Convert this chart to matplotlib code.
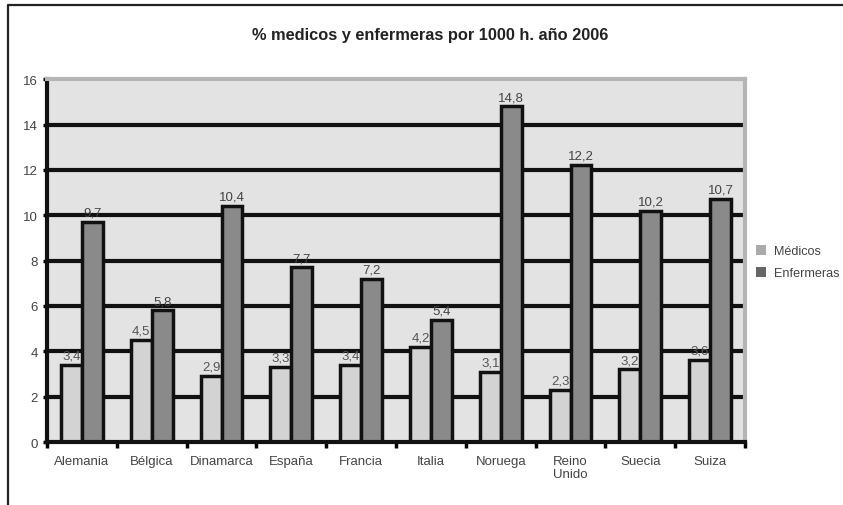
import numpy as np
import matplotlib.pyplot as plt
from matplotlib.lines import Line2D

plt.rcParams['font.family'] = ['Liberation Sans', 'DejaVu Sans']

# Datos
paises = ["Alemania", "Bélgica", "Dinamarca", "España", "Francia",
          "Italia", "Noruega", "Reino\nUnido", "Suecia", "Suiza"]
medicos = [3.4, 4.5, 2.9, 3.3, 3.4, 4.2, 3.1, 2.3, 3.2, 3.6]
enfermeras = [9.7, 5.8, 10.4, 7.7, 7.2, 5.4, 14.8, 12.2, 10.2, 10.7]
yticks = [0, 2, 4, 6, 8, 10, 12, 14, 16]

def fmt(v):
    return f"{v:.1f}".replace(".", ",")

fig = plt.figure(figsize=(8.43, 5.06), dpi=100)
ax = fig.add_axes([0.0558, 0.1245, 0.828, 0.717])

# marco exterior (solo arriba e izquierda)
fig.lines.append(Line2D([0.0089, 0.0089, 1.0], [0.0, 0.989, 0.989],
                        transform=fig.transFigure, color="#222222", linewidth=1.6))

ax.set_facecolor("#e3e3e3")
x = np.arange(len(paises))
w = 0.3

for y in yticks[1:-1]:
    ax.axhline(y, color="#111111", linewidth=3, zorder=1)

b1 = ax.bar(x - w / 2, medicos, w, color="#d3d3d3", edgecolor="#111111",
            linewidth=2.5, label="Médicos", zorder=2)
b2 = ax.bar(x + w / 2, enfermeras, w, color="#8a8a8a", edgecolor="#111111",
            linewidth=2.5, label="Enfermeras", zorder=2)

for xi, v in zip(x - w / 2, medicos):
    ax.text(xi, v + 0.15, fmt(v), ha="center", va="bottom", fontsize=9.5,
            color="#555555", zorder=1.5)
for xi, v in zip(x + w / 2, enfermeras):
    ax.text(xi, v + 0.15, fmt(v), ha="center", va="bottom", fontsize=9.5,
            color="#444444", zorder=3)

ax.set_xlim(-0.5, len(paises) - 0.5)
ax.set_ylim(0, 16)
ax.set_yticks(yticks)
ax.set_xticks(x)
ax.set_xticklabels(paises, fontsize=9.5, color="#444444")
ax.tick_params(axis="y", labelsize=9.5, labelcolor="#444444", length=3, width=2.5)
ax.tick_params(axis="x", length=0, pad=9)
# marcas de separacion entre categorias
ax.set_xticks(np.arange(-0.5, len(paises)), minor=True)
ax.tick_params(axis="x", which="minor", length=4, width=2.5)

for s in ["left", "bottom"]:
    ax.spines[s].set_linewidth(3)
    ax.spines[s].set_color("#111111")
for s in ["top", "right"]:
    ax.spines[s].set_linewidth(3)
    ax.spines[s].set_color("#b5b5b5")

fig.text(0.51, 0.93, "% medicos y enfermeras por 1000 h. año 2006", ha="center",
         va="center", fontsize=11.8, fontweight="bold", color="#222222")

leg = fig.legend(handles=[b1, b2], loc="center left", bbox_to_anchor=(0.891, 0.48),
                 frameon=False, fontsize=9.1, handlelength=0.8, handleheight=0.8,
                 handletextpad=0.6, labelspacing=0.8, borderaxespad=0.0)
for h in leg.legend_handles:
    h.set_edgecolor("none")
leg.legend_handles[0].set_facecolor("#aaaaaa")
leg.legend_handles[1].set_facecolor("#666666")
for t in leg.get_texts():
    t.set_color("#444444")

fig.savefig("out.png", dpi=100)
